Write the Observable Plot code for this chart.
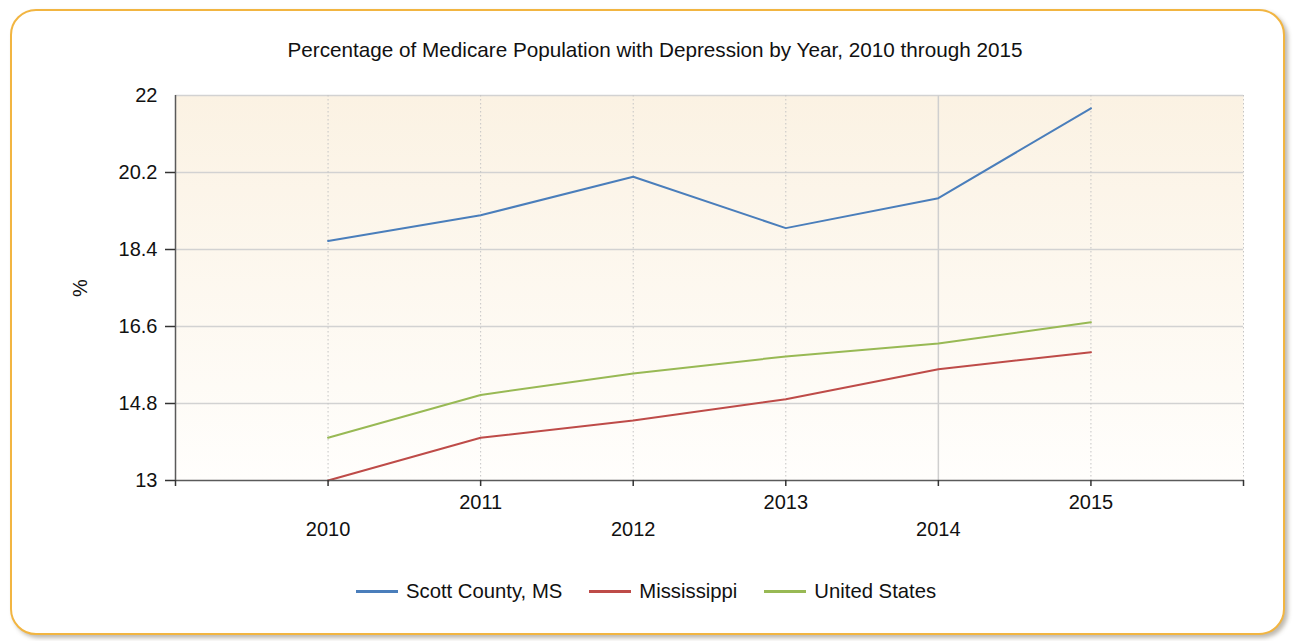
<!DOCTYPE html>
<html><head><meta charset="utf-8">
<script src="https://cdn.jsdelivr.net/npm/d3@7"></script>
<script src="https://cdn.jsdelivr.net/npm/@observablehq/plot@0.6"></script>
<style>
html,body{margin:0;padding:0;background:#fff;}
#wrap{position:relative;width:1293px;height:641px;overflow:hidden;font-family:"Liberation Sans",Arial,sans-serif;color:#111;}
#frame{position:absolute;left:10px;top:9px;width:1275px;height:626px;border:2px solid #F2B541;border-radius:26px;box-shadow:3px 3px 4px rgba(110,100,80,0.45);background:#fff;box-sizing:border-box;}
#title{position:absolute;left:0;width:1310px;top:38px;text-align:center;font-size:20.7px;line-height:24px;white-space:nowrap;}
#chart{position:absolute;left:0;top:0;}
#legend{position:absolute;top:579px;left:356px;display:flex;align-items:center;font-size:20.3px;line-height:24px;white-space:nowrap;}
.item{display:flex;align-items:center;margin-right:27px;}
.sw{width:42px;height:3px;margin-right:8px;}
</style></head>
<body>
<div id="wrap">
  <div id="frame"></div>
  <div id="title"></div>
  <div id="chart"></div>
  <div id="legend"></div>
</div>
<script>
const titleText = "Percentage of Medicare Population with Depression by Year, 2010 through 2015";
const yLabel = "%";
const years = [2010, 2011, 2012, 2013, 2014, 2015];
const axisYears = [2009, 2010, 2011, 2012, 2013, 2014, 2015, 2016];
const oddYearLabels = [2011, 2013, 2015];
const evenYearLabels = [2010, 2012, 2014];
const seriesNames = ["Scott County, MS", "Mississippi", "United States"];
const seriesColors = ["#4A7EBB", "#BE4B48", "#98B954"];
const scottCounty = [18.6, 19.2, 20.1, 18.9, 19.6, 21.7];
const mississippi = [13.0, 14.0, 14.4, 14.9, 15.6, 16.0];
const unitedStates = [14.0, 15.0, 15.5, 15.9, 16.2, 16.7];
const yTicks = [13, 14.8, 16.6, 18.4, 20.2, 22];

const seriesValues = [scottCounty, mississippi, unitedStates];
const rows = [];
seriesNames.forEach((name, s) => years.forEach((yr, i) => rows.push({series: name, year: yr, value: seriesValues[s][i]})));

document.getElementById("title").textContent = titleText;

const chart = Plot.plot({
  width: 1293, height: 560,
  marginLeft: 175, marginRight: 50, marginTop: 95, marginBottom: 80,
  style: {background: "transparent", fontFamily: "'Liberation Sans', Arial, sans-serif", fontSize: "20px", color: "#111", overflow: "visible"},
  x: {domain: [2009, 2016], label: null},
  y: {domain: [13, 22], label: null},
  color: {domain: seriesNames, range: seriesColors},
  marks: [
    Plot.frame({fill: "url(#bgGrad)", stroke: null}),
    Plot.ruleY(yTicks.filter(d => d > 13), {stroke: "#d2d2d2", strokeWidth: 1.5}),
    Plot.ruleX(axisYears.filter(d => d > 2009 && d !== 2014), {stroke: "#c4c4c4", strokeWidth: 1, strokeDasharray: "1.5,2.5"}),
    Plot.ruleX(axisYears.filter(d => d === 2014), {stroke: "#cfcfcf", strokeWidth: 1.5}),
    Plot.line(rows, {x: "year", y: "value", z: "series", stroke: "series", strokeWidth: 2}),
    Plot.ruleY([13], {stroke: "#5a5a5a", strokeWidth: 1.5}),
    Plot.ruleX([2009], {stroke: "#5a5a5a", strokeWidth: 1.5}),
    Plot.axisY({ticks: yTicks.filter(d => d < 22), tickSize: 10, stroke: "#333", strokeWidth: 1.5, tickFormat: () => "", label: null}),
    Plot.axisY({ticks: yTicks, tickSize: 0, tickPadding: 18, fill: "#111", tickFormat: d => String(d), label: null}),
    Plot.axisX({ticks: axisYears, tickSize: 6, stroke: "#333", strokeWidth: 1.5, tickFormat: () => "", label: null}),
    Plot.axisX({ticks: oddYearLabels, tickSize: 0, tickPadding: 14, tickFormat: d => String(d), fill: "#111", label: null}),
    Plot.axisX({ticks: evenYearLabels, tickSize: 0, tickPadding: 41, tickFormat: d => String(d), fill: "#111", label: null}),
    Plot.text([yLabel], {frameAnchor: "left", dx: -95, rotate: -90, textAnchor: "middle", fill: "#111"})
  ]
});
d3.select(chart).insert("defs", ":first-child").html(
  '<linearGradient id="bgGrad" x1="0" y1="0" x2="0" y2="1"><stop offset="0" stop-color="#FBF2E3"/><stop offset="1" stop-color="#FFFEFC"/></linearGradient>'
);
document.getElementById("chart").appendChild(chart);

const legend = d3.select("#legend");
seriesNames.forEach((name, i) => {
  const it = legend.append("div").attr("class", "item");
  it.append("div").attr("class", "sw").style("background", seriesColors[i]);
  it.append("span").text(name);
});
</script>
</body></html>
